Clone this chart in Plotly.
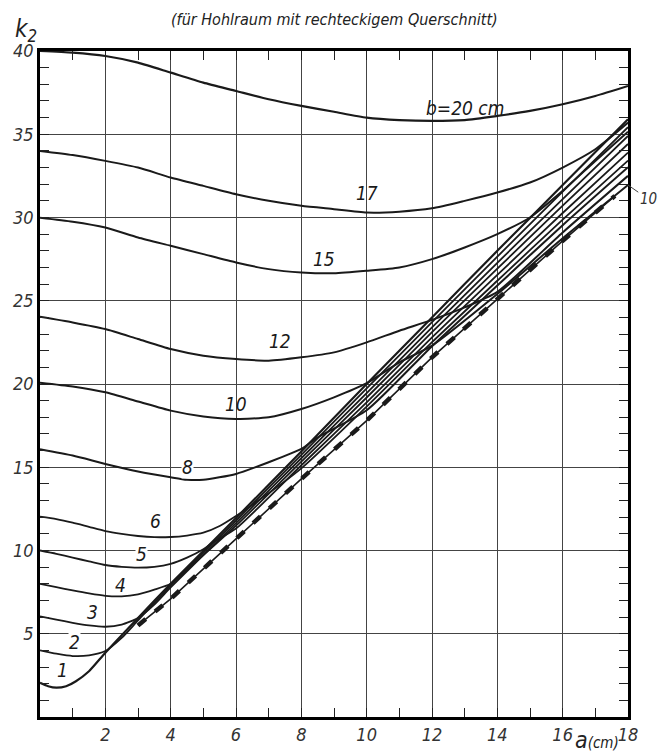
import plotly.graph_objects as go

# Kurven k2(a) fuer verschiedene b
a_b1 = [0, 0.25, 0.5, 0.8, 1.1, 1.5, 2, 3, 4, 6, 8, 10, 12, 14, 16, 18]
k_b1 = [2.05, 1.85, 1.76, 1.85, 2.15, 2.75, 3.86, 5.95, 8.0, 11.95, 15.95, 20.0, 24.0, 28.0, 31.95, 35.9]

a_b2 = [0, 0.5, 1, 1.5, 2, 2.5, 3, 4, 6, 8, 10, 12, 14, 16, 18]
k_b2 = [4.0, 3.8, 3.66, 3.7, 3.96, 4.75, 5.8, 7.89, 11.8, 15.75, 19.74, 23.71, 27.65, 31.55, 35.42]

a_b3 = [0, 0.5, 1, 1.5, 2, 2.5, 3, 3.5, 4, 6, 8, 10, 12, 14, 16, 18]
k_b3 = [6.05, 5.85, 5.66, 5.5, 5.42, 5.55, 5.95, 6.75, 7.78, 11.64, 15.54, 19.45, 23.4, 27.28, 31.11, 34.9]

a_b4 = [0, 0.5, 1, 1.5, 2, 2.5, 3, 3.5, 4, 4.5, 6, 8, 10, 12, 14, 16, 18]
k_b4 = [8.0, 7.8, 7.6, 7.42, 7.28, 7.25, 7.37, 7.65, 8.0, 8.85, 11.49, 15.34, 19.19, 23.11, 26.93, 30.71, 34.42]

a_b5 = [0, 0.5, 1, 1.5, 2, 2.5, 3, 3.5, 4, 4.5, 5, 5.3, 6, 8, 10, 12, 14, 16, 18]
k_b5 = [10.0, 9.8, 9.57, 9.35, 9.13, 9.02, 8.97, 9.02, 9.2, 9.57, 10.07, 10.5, 11.32, 15.12, 18.9, 22.8, 26.55,
        30.27, 33.9]

a_b6 = [0, 0.5, 1, 1.5, 2, 2.5, 3, 3.5, 4, 4.5, 5, 5.5, 6, 6.4, 8, 10, 12, 14, 16, 18]
k_b6 = [12.03, 11.88, 11.67, 11.42, 11.17, 11.0, 10.87, 10.8, 10.81, 10.9, 11.07, 11.47, 12.07, 12.6,
        14.93, 18.64, 22.51, 26.2, 29.87, 33.42]

a_b8 = [0, 1, 2, 3, 4, 4.5, 5, 6, 7, 8, 8.5, 10, 12, 14, 16, 18]
k_b8 = [16.08, 15.7, 15.2, 14.75, 14.4, 14.25, 14.25, 14.6, 15.3, 16.1, 16.8, 18.42, 22.27, 25.91, 29.54, 33.02]

a_b10 = [0, 1, 2, 3, 4, 5, 6, 7, 8, 9, 10, 11, 12, 14, 16, 18]
k_b10 = [20.08, 19.85, 19.5, 18.95, 18.4, 18.05, 17.9, 18.0, 18.5, 19.2, 20.05, 21.3, 22.3, 25.4, 28.75, 31.95]

a_b12 = [0, 1, 2, 3, 4, 5, 6, 7, 8, 9, 10, 11, 12, 13, 14, 16, 18]
k_b12 = [24.04, 23.7, 23.3, 22.7, 22.1, 21.7, 21.5, 21.4, 21.6, 21.9, 22.5, 23.2, 23.85, 24.6, 25.53, 29.1, 32.5]

a_b15 = [0, 1, 2, 3, 4, 5, 6, 7, 8, 9, 10, 11, 12, 13, 14, 15, 16, 17, 18]
k_b15 = [29.99, 29.75, 29.4, 28.8, 28.3, 27.8, 27.3, 26.9, 26.7, 26.65, 26.8, 27.0, 27.5, 28.2, 29.0, 30.0,
         31.6, 33.4, 35.15]

a_b17 = [0, 1, 2, 3, 4, 5, 6, 7, 8, 9, 10, 11, 12, 13, 14, 15, 16, 17, 18]
k_b17 = [34.0, 33.75, 33.4, 33.0, 32.4, 31.9, 31.4, 31.0, 30.7, 30.5, 30.3, 30.35, 30.55, 31.0, 31.5, 32.1,
         33.0, 34.1, 35.7]

a_b20 = [0, 1, 2, 3, 4, 5, 6, 7, 8, 9, 10, 11, 12, 13, 14, 15, 16, 17, 18]
k_b20 = [40.0, 39.9, 39.7, 39.3, 38.7, 38.1, 37.6, 37.1, 36.7, 36.35, 36.0, 35.85, 35.8, 35.85, 36.1, 36.4,
         36.8, 37.3, 37.9]

# fette gestrichelte Linie am unteren Rand des Buendels
a_dash = [3.0, 4, 6, 8, 10, 12, 14, 16, 17.6]
k_dash = [5.5, 7.1, 10.7, 14.3, 17.8, 21.6, 25.1, 28.6, 31.3]

curves = [
    (a_b1, k_b1, 2.2), (a_b2, k_b2, 1.8), (a_b3, k_b3, 1.8), (a_b4, k_b4, 1.8),
    (a_b5, k_b5, 1.8), (a_b6, k_b6, 1.8), (a_b8, k_b8, 2.0), (a_b10, k_b10, 2.0),
    (a_b12, k_b12, 2.0), (a_b15, k_b15, 2.0), (a_b17, k_b17, 2.0), (a_b20, k_b20, 2.2),
]

# Beschriftungen an den Kurven: (text, a, k)
curve_labels = [
    ('b=20 cm', 13.0, 36.6), ('17', 10.0, 31.5), ('15', 8.7, 27.5), ('12', 7.35, 22.6),
    ('10', 6.0, 18.8), ('8', 4.5, 15.0), ('6', 3.55, 11.8), ('5', 3.1, 9.8),
    ('4', 2.45, 7.9), ('3', 1.62, 6.3), ('2', 1.06, 4.5), ('1', 0.7, 2.8),
]
# Beschriftungen am rechten Rand
edge_labels = [
    ('1', 18.27, 36.3), ('2', 18.5, 35.7), ('3', 18.72, 35.1), ('4', 18.42, 34.45),
    ('5', 18.58, 33.75), ('6', 18.8, 33.1), ('8', 18.5, 32.35), ('12', 18.85, 31.9),
]

x_ticks = [2, 4, 6, 8, 10, 12, 14, 16, 18]
y_ticks = [5, 10, 15, 20, 25, 30, 35, 40]

FONT = 'DejaVu Sans Condensed, Liberation Sans Narrow, Arial Narrow, sans-serif'
INK = '#1a1a1a'

fig = go.Figure()
for a, k, w in curves:
    fig.add_trace(go.Scatter(x=a, y=k, mode='lines', line=dict(color=INK, width=w, shape='spline', smoothing=0.6),
                             hoverinfo='skip'))
# untere Begrenzung des Buendels: duenne Linie plus fette Striche darauf
fig.add_trace(go.Scatter(x=a_dash, y=k_dash, mode='lines', line=dict(color=INK, width=1.6), hoverinfo='skip'))
fig.add_trace(go.Scatter(x=a_dash, y=k_dash, mode='lines',
                         line=dict(color=INK, width=4.5, dash='10px,12px'), hoverinfo='skip'))

ann = []
for t, x, y in curve_labels:
    bg = 'white' if t in ('8', '5', '2') else None
    ann.append(dict(x=x, y=y, xref='x', yref='y', text=f'<i>{t}</i>', showarrow=False,
                    font=dict(family=FONT, size=19, color=INK), bgcolor=bg, borderpad=0))
for t, x, y in edge_labels:
    ann.append(dict(x=x, y=y, xref='x', yref='y', text=f'<i>{t}</i>', showarrow=False,
                    font=dict(family=FONT, size=15, color='#333')))
ann.append(dict(x=18.0, y=31.95, xref='x', yref='y', ax=18.62, ay=31.1, axref='x', ayref='y',
                text='<i>10</i>', showarrow=True, arrowhead=0, arrowwidth=1, arrowcolor='#444',
                font=dict(family=FONT, size=15, color='#333')))
ann.append(dict(x=0.5, y=1.0, xref='paper', yref='paper', xanchor='center', yanchor='middle', yshift=32,
                text='<i>(für Hohlraum mit rechteckigem Querschnitt)</i>', showarrow=False,
                font=dict(family=FONT, size=16, color='#222')))
ann.append(dict(x=0, y=1.0, xref='paper', yref='paper', xanchor='center', yanchor='middle',
                xshift=-14, yshift=21, text='<i>k<sub>2</sub></i>', showarrow=False,
                font=dict(family=FONT, size=24, color='#222')))
ann.append(dict(x=17.05, y=0, xref='x', yref='y', yshift=-23,
                text='<i><span style="font-size:23px">a</span>(cm)</i>', showarrow=False,
                font=dict(family=FONT, size=15, color='#222')))

axis_common = dict(showline=True, linecolor='black', linewidth=2.5, mirror='allticks', automargin=False,
                   ticks='inside', ticklen=9, tickcolor='#222', tickwidth=1.2,
                   showgrid=True, gridcolor='#444', gridwidth=1, zeroline=False,
                   tickfont=dict(family=FONT, size=18, color='#333'))

# Seite hat 8px Rand im Body -> Figur etwas kleiner und Raender entsprechend verschoben
fig.update_layout(
    width=658, height=745,
    margin=dict(l=32, r=38, t=43, b=36),
    paper_bgcolor='white', plot_bgcolor='white',
    showlegend=False,
    annotations=ann,
    xaxis=dict(range=[0, 18], tickvals=x_ticks, ticktext=[f'<i>{v}</i>' for v in x_ticks],
               minor=dict(dtick=1, tick0=0, ticks='inside', ticklen=9, tickcolor='#222', showgrid=False),
               **axis_common),
    yaxis=dict(range=[0, 40], tickvals=y_ticks, ticktext=[f'<i>{v}</i>' for v in y_ticks],
               minor=dict(dtick=1, tick0=0, ticks='inside', ticklen=9, tickcolor='#222', showgrid=False),
               **axis_common),
)

fig.write_html("out.html")
